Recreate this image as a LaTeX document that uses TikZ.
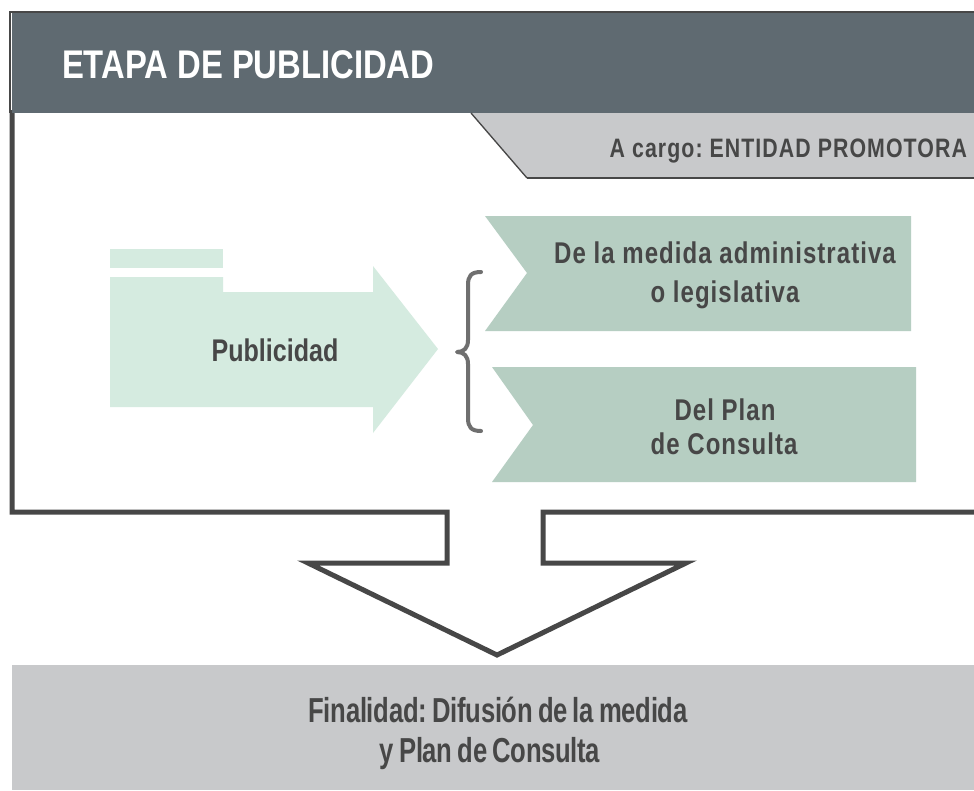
\documentclass[tikz,border=0pt]{standalone}
\usepackage{fontspec}
\setmainfont{Liberation Sans}
\newfontfamily\fH{Liberation Sans}[FakeStretch=0.82]
\newfontfamily\fT{Liberation Sans}[FakeStretch=0.8, LetterSpace=4]
\newfontfamily\fB{Liberation Sans}[FakeStretch=0.8, LetterSpace=3.5]
\newfontfamily\fP{Liberation Sans}[FakeStretch=0.8]
\newfontfamily\fF{Liberation Sans}[FakeStretch=0.74, WordSpace=0.75, LetterSpace=-0.8]
\frenchspacing
\definecolor{headerC}{HTML}{5F6A71}
\definecolor{frameC}{HTML}{474747}
\definecolor{tabC}{HTML}{C8C9CB}
\definecolor{lgreen}{HTML}{D5EBE0}
\definecolor{bgreen}{HTML}{B6CEC2}
\definecolor{textC}{HTML}{474747}
\definecolor{braceC}{HTML}{6F6F6F}
\begin{document}
\begin{tikzpicture}[x=0.75pt,y=-0.75pt,
  lbl/.style={inner sep=0pt,outer sep=0pt,text=textC,font=\bfseries},
  frameline/.style={draw=frameC,line width=3.75pt,line join=miter},
  bracestyle/.style={draw=braceC,line width=3pt,line cap=round,line join=round}]
\useasboundingbox (0,0) rectangle (974,790);
\fill[white] (0,0) rectangle (974,790);
% frame and down arrow outline
\draw[frameline] (12,110) -- (12,512) -- (447,512) -- (447,563) -- (308,563) -- (497,655) -- (686,563) -- (543,563) -- (543,512) -- (974,512);
% header band
\fill[headerC] (11.5,12) rectangle (974,113);
\draw[frameC,line width=1.6pt] (10,12) -- (974,12);
\draw[frameC,line width=1.6pt] (10,11) -- (10,113);
\node[lbl,anchor=base west,text=white,font=\fH\bfseries\fontsize{30pt}{33pt}\selectfont] (title) at (62,78) {ETAPA DE PUBLICIDAD};
% tab
\fill[tabC] (471,113) -- (974,113) -- (974,178) -- (527,178) -- cycle;
\draw[frameC,line width=1pt] (471,113) -- (527,178);
\draw[frameC,line width=2pt] (527,178) -- (974,178);
\node[lbl,anchor=base east,font=\fT\bfseries\fontsize{20pt}{23pt}\selectfont] (cargo) at (967,157) {A cargo: ENTIDAD PROMOTORA};
% green arrow
\fill[lgreen] (110,249) rectangle (223,268);
\fill[lgreen] (110,277) -- (223,277) -- (223,292) -- (373,292) -- (373,266) -- (438,349) -- (373,433) -- (373,407) -- (110,407) -- cycle;
\node[lbl,anchor=base,font=\fP\bfseries\fontsize{23.5pt}{26pt}\selectfont] (pub) at (275,361) {Publicidad};
% brace
\draw[bracestyle] (481,272) .. controls (471,272) and (468,276) .. (468,285) -- (468,340) .. controls (468,348) and (464,352) .. (457,352) .. controls (464,352) and (468,356) .. (468,364) -- (468,418) .. controls (468,427) and (471,431) .. (481,431);
% banners
\fill[bgreen] (485,216) -- (911,216) -- (911,331) -- (485,331) -- (527,273) -- cycle;
\fill[bgreen] (492,367) -- (916,367) -- (916,482) -- (492,482) -- (533,425) -- cycle;
\node[lbl,anchor=base,font=\fB\bfseries\fontsize{22.5pt}{25pt}\selectfont] (med1) at (725,263) {De la medida administrativa};
\node[lbl,anchor=base,font=\fB\bfseries\fontsize{22.5pt}{25pt}\selectfont] (med2) at (725,302) {o legislativa};
\node[lbl,anchor=base,font=\fB\bfseries\fontsize{22.5pt}{25pt}\selectfont] (plan1) at (725,420) {Del Plan};
\node[lbl,anchor=base,font=\fB\bfseries\fontsize{22.5pt}{25pt}\selectfont] (plan2) at (724,454) {de Consulta};
% bottom box
\fill[tabC] (12,665) rectangle (974,790);
\node[lbl,anchor=base,font=\fF\bfseries\fontsize{26pt}{29pt}\selectfont] (fin1) at (498,722) {Finalidad: Difusión de la medida};
\node[lbl,anchor=base,font=\fF\bfseries\fontsize{26pt}{29pt}\selectfont] (fin2) at (490,762) {y Plan de Consulta};
\end{tikzpicture}
\end{document}
